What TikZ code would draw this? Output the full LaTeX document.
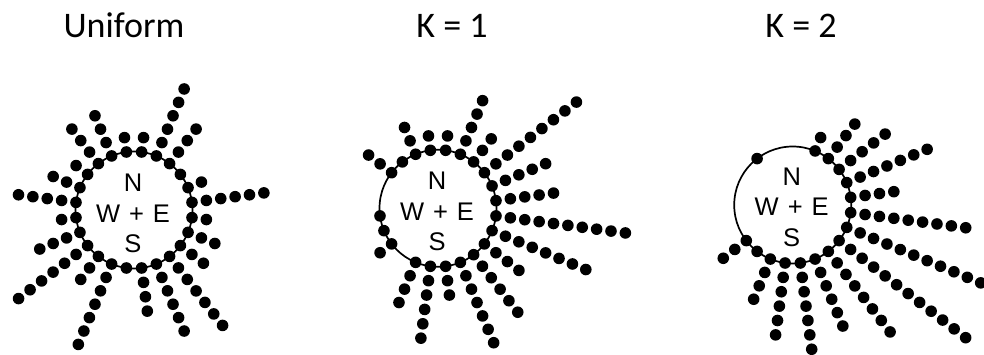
\documentclass[tikz,border=0pt]{standalone}
\usepackage{fontspec}
\setmainfont{Liberation Sans}
\newfontfamily\titlefont{Carlito}

\tikzset{
  bead/.style={fill=black},
  ringline/.style={circle, draw=black, line width=1.7pt, minimum size=117pt, inner sep=0pt, outer sep=0pt},
  heading/.style={font=\titlefont\fontsize{36}{36}\selectfont, anchor=base, inner sep=0pt},
  compass/.style={font=\fontsize{25.5}{30.5}\selectfont, align=center, inner sep=0pt},
}

% One burst: a ring of radius 58.5 with 24 possible spokes at 7.5 + 15k degrees;
% the k-th entry of the list is the number of beads on spoke k (0 = none).
\newcommand\drawburst[2]{%
  \begin{scope}[shift={#1}]
    \foreach \n [count=\k from 0] in {#2} {
      \ifnum\n>0
        \foreach \j in {1,...,\n}
          \fill[bead] ({7.5+15*\k}:{58.5+(\j-1)*14.5}) circle[radius=5.8pt];
      \fi
    }
  \end{scope}}

\begin{document}
\begin{tikzpicture}[x=1pt,y=1pt]
  \useasboundingbox (0,-355) rectangle (984,0);

  % headings
  \node[heading] (tUniform) at (124,-38) {Uniform};
  \node[heading] (tKone)    at (452,-38) {K = 1};
  \node[heading] (tKtwo)    at (801,-38) {K = 2};

  % rings
  \node[ringline] (ringU) at (134,-210) {};
  \node[ringline] (ringA) at (438,-208.3) {};
  \node[ringline] (ringB) at (792.7,-205) {};

  % compass labels
  \foreach \r in {ringU,ringA} {
    \node[compass] (lbl\r) at ([shift={(-1,-3.5)}]\r.center) {N\\W\hspace{9pt}+\hspace{9pt}E\\S};
  }
  \node[compass] (lblringB) at ([shift={(-1,-2)}]ringB.center) {N\\W\hspace{9pt}+\hspace{9pt}E\\S};

  % beads
  \drawburst{(134,-210)}{6,2,1,4,6,2,2,4,4,2,3,5,2,4,7,3,7,1,4,6,7,3,3,2}
  \drawburst{(438,-208.3)}{5,5,9,3,5,2,2,3,1,3,0,0,1,1,2,0,4,6,3,7,6,4,8,10}
  \drawburst{(792.7,-205)}{4,7,5,4,2,0,0,0,1,0,0,0,0,0,3,1,4,6,7,6,8,12,11,9}
\end{tikzpicture}
\end{document}
